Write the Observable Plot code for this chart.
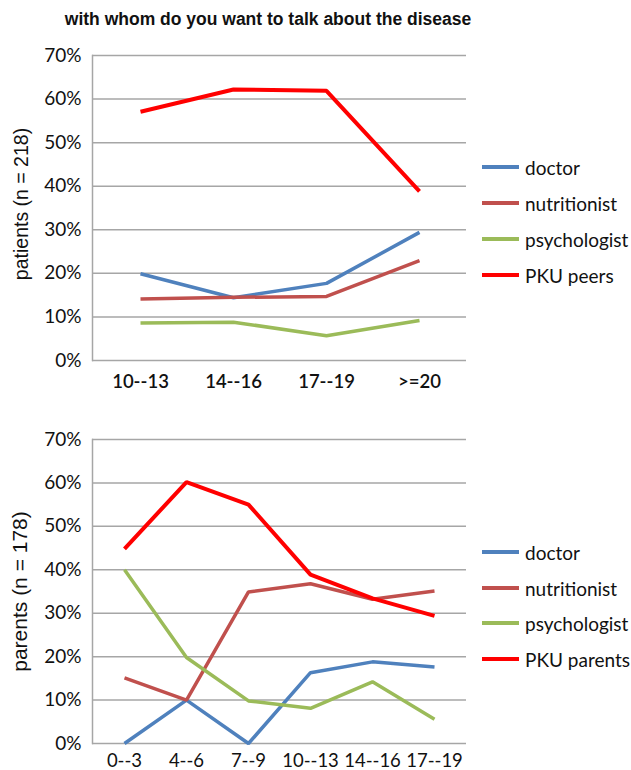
<!DOCTYPE html>
<html>
<head>
<meta charset="utf-8">
<script src="https://cdn.jsdelivr.net/npm/d3@7"></script>
<script src="https://cdn.jsdelivr.net/npm/@observablehq/plot@0.6"></script>
<style>
  html, body { margin: 0; padding: 0; background: #fff; }
  #wrap { position: relative; width: 631px; height: 770px; overflow: hidden; font-family: Lato, "Open Sans", sans-serif; }
  #title { position: absolute; left: 0; width: 536px; top: 9px; text-align: center; font: bold 17.5px "Liberation Sans", Arial, sans-serif; color: #111; }
  .panel { position: absolute; left: 0; }
  .legend { position: absolute; left: 482px; font-size: 19px; color: #111; }
  .item { position: absolute; left: 0; height: 22px; white-space: nowrap; display: flex; align-items: center; }
  .sw { display: inline-block; width: 37px; height: 3.5px; margin-right: 6px; }
</style>
</head>
<body>
<div id="wrap">
  <div id="title">with whom do you want to talk about the disease</div>
  <div id="p1" class="panel" style="top:36px"></div>
  <div id="p2" class="panel" style="top:420px"></div>
  <div id="l1" class="legend" style="top:0"></div>
  <div id="l2" class="legend" style="top:0"></div>
</div>
<script>
// ---- data ----
const seriesNames = ["doctor", "nutritionist", "psychologist"];
const seriesColors = ["#4f81bd", "#c0504d", "#9bbb59", "#ff0000"];

const topCats = ["10--13", "14--16", "17--19", ">=20"];
const topDoctor = [0.199, 0.144, 0.177, 0.294];
const topNutritionist = [0.141, 0.145, 0.147, 0.229];
const topPsychologist = [0.086, 0.088, 0.057, 0.092];
const topPeers = [0.571, 0.622, 0.619, 0.388];
const topLabel = "patients (n = 218)";
const topLast = "PKU peers";

const botCats = ["0--3", "4--6", "7--9", "10--13", "14--16", "17--19"];
const botDoctor = [0.0, 0.10, 0.0, 0.163, 0.188, 0.176];
const botNutritionist = [0.151, 0.10, 0.349, 0.368, 0.332, 0.351];
const botPsychologist = [0.40, 0.198, 0.098, 0.081, 0.142, 0.056];
const botParents = [0.448, 0.602, 0.55, 0.389, 0.334, 0.294];
const botLabel = "parents (n = 178)";
const botLast = "PKU parents";

const yTicks = [0, 0.1, 0.2, 0.3, 0.4, 0.5, 0.6, 0.7];

function toRows(cats, arrays, names) {
  const rows = [];
  arrays.forEach((arr, i) => arr.forEach((v, j) => rows.push({cat: cats[j], value: v, series: names[i]})));
  return rows;
}

function panel(cats, arrays, names, label, o) {
  const rows = toRows(cats, arrays, names);
  const marks = [
    Plot.gridY(yTicks, {stroke: "#a6a6a6", strokeOpacity: 1, strokeWidth: 1.5}),
    Plot.frame({anchor: "left", stroke: "#a6a6a6", strokeWidth: 1.5}),
    Plot.axisY(yTicks, {tickSize: 0, tickPadding: 11, tickFormat: d3.format(".0%"), fontSize: 19, label: null, fill: "#111"}),
    Plot.axisX({tickSize: 0, tickPadding: o.xPad, fontSize: 18.5, label: null, fill: "#111", fontWeight: o.xWeight}),
  ];
  names.forEach((n, i) => {
    marks.push(Plot.line(rows.filter(d => d.series === n), {
      x: "cat", y: "value", stroke: seriesColors[i], strokeWidth: i === 3 ? 4 : 3.5, strokeLinejoin: "miter", strokeLinecap: "butt"
    }));
  });
  marks.push(Plot.text([label], {frameAnchor: "left", textAnchor: "middle", rotate: -90, dx: o.labelDx, dy: o.labelDy, fontSize: o.labelSize, fill: "#111",
    fontFamily: "'Liberation Sans', Arial, sans-serif"}));
  return Plot.plot({
    width: 631, height: o.height,
    marginLeft: 92, marginRight: 165, marginTop: o.mt, marginBottom: o.mb,
    style: {fontFamily: "Lato, 'Open Sans', sans-serif", background: "transparent", overflow: "visible"},
    x: {type: "point", domain: cats, padding: 0.5},
    y: {domain: [0, 0.7]},
    marks
  });
}

function legend(el, names, centers) {
  names.forEach((n, i) => {
    const d = document.createElement("div");
    d.className = "item";
    d.style.top = (centers[i] - 11) + "px";
    d.innerHTML = `<span class="sw" style="background:${seriesColors[i]}"></span><span>${n}</span>`;
    el.appendChild(d);
  });
}

const names1 = [...seriesNames, topLast];
const names2 = [...seriesNames, botLast];

document.getElementById("p1").appendChild(panel(topCats, [topDoctor, topNutritionist, topPsychologist, topPeers], names1, topLabel,
  {height: 360, mt: 19, mb: 36, xPad: 14, xWeight: 600, labelDx: -71, labelDy: -4, labelSize: 19.5}));
document.getElementById("p2").appendChild(panel(botCats, [botDoctor, botNutritionist, botPsychologist, botParents], names2, botLabel,
  {height: 350, mt: 19, mb: 27, xPad: 10, xWeight: 400, labelDx: -72, labelDy: 0, labelSize: 21}));

legend(document.getElementById("l1"), names1, [167, 203, 239, 275]);
legend(document.getElementById("l2"), names2, [552, 588, 623, 659]);
</script>
</body>
</html>
